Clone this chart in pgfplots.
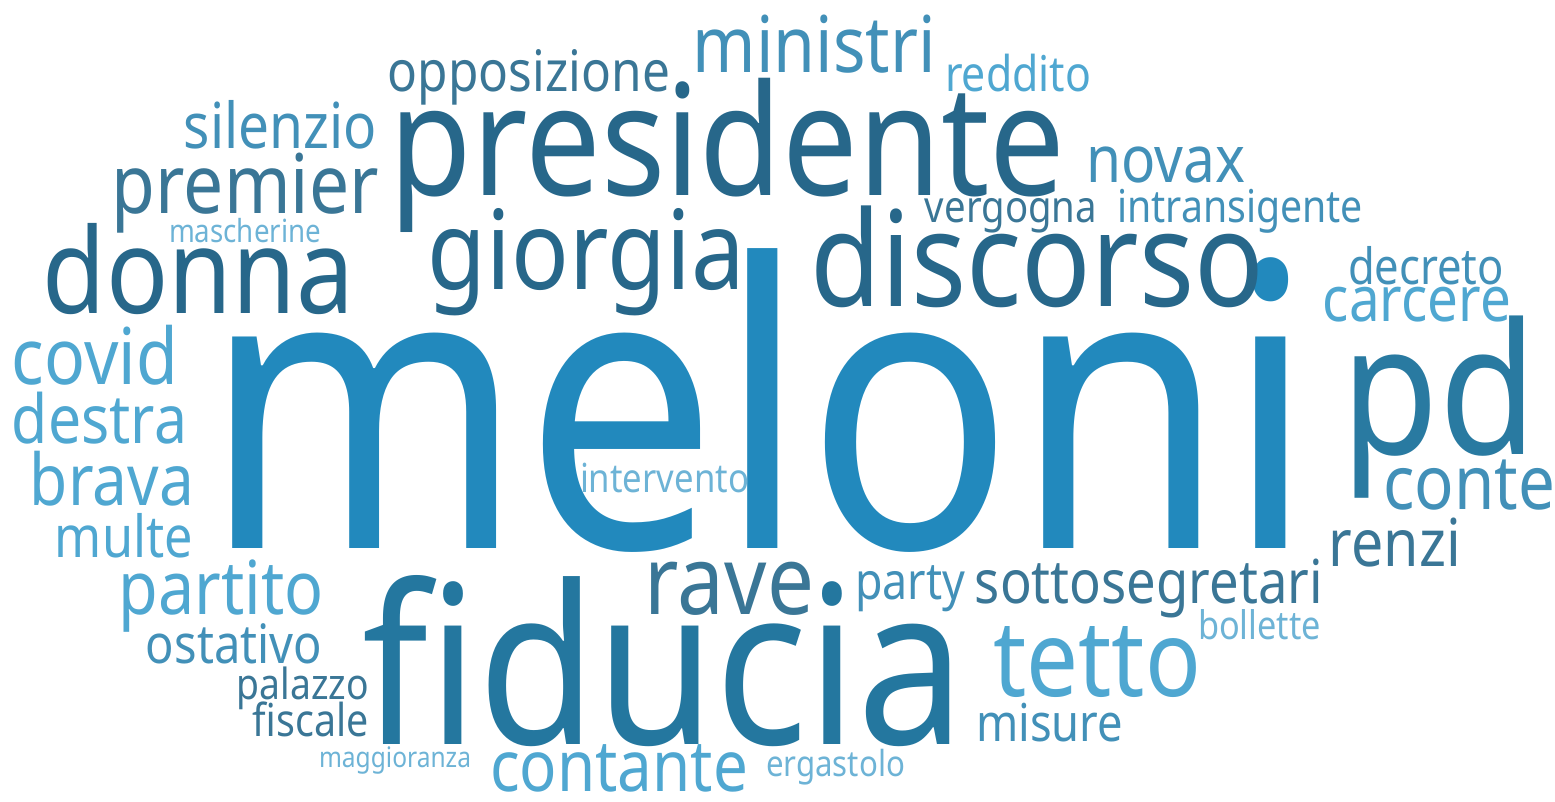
\documentclass[border=0pt]{standalone}
\usepackage{pgfplots}
\pgfplotsset{compat=1.18}
\usepackage{pgfplotstable}
\usepackage{graphicx}
\usepackage{fontspec}
\setmainfont{Noto Sans}
\newlength\pxu \setlength\pxu{0.1mm}
\definecolor{mel}{HTML}{2289BD}
\definecolor{dk}{HTML}{27678A}
\definecolor{fid}{HTML}{24779F}
\definecolor{pdc}{HTML}{297AA1}
\definecolor{slate}{HTML}{3A7696}
\definecolor{mid}{HTML}{4290B8}
\definecolor{light}{HTML}{4FA7D1}
\definecolor{pale}{HTML}{6DB3D6}
\pgfplotstableread{
x y w word
759.5 548 1111 meloni
}\wmel
\pgfplotstableread{
x y w word
727.5 195 675 presidente
1037.5 306 453 discorso
198.5 313 311 donna
586.5 289 317 giorgia
}\wdk
\pgfplotstableread{
x y w word
664 744 602 fiducia
}\wfid
\pgfplotstableread{
x y w word
1439.5 454 195 pd
}\wpd
\pgfplotstableread{
x y w word
529 91 282 opposizione
245.5 213 267 premier
1011 222 172 vergogna
1395 566 132 renzi
729.5 614 169 rave
1149 603 348 sottosegretari
303 699 132 palazzo
311 736 116 fiscale
}\wslate
\pgfplotstableread{
x y w word
814.5 72 243 ministri
280.5 148 193 silenzio
1165.5 182 159 novax
1240 222 246 intransigente
1426 284 156 decreto
1469 509 172 conte
910 599 110 party
234 663 176 ostativo
1049.5 741 147 misure
}\wmid
\pgfplotstableread{
x y w word
1018 91 146 reddito
1417 321 188 carcere
95 384 166 covid
99.5 443 175 destra
112 505 164 brava
124 557 138 multe
221.5 614 205 partito
1097 696 208 tetto
619 791 258 contante
}\wlight
\pgfplotstableread{
x y w word
245 242 152 mascherine
664.5 492 169 intervento
1259.5 639 123 bollette
395 767 152 maggioranza
835.5 776 139 ergastolo
}\wpale
\pgfplotsset{
  cloud/.style={only marks, mark=none, point meta=explicit symbolic,
    visualization depends on={\thisrow{w}\as\ww},
    nodes near coords={\scalebox{1}[1.15]{\resizebox{\ww\pxu}{!}{\pgfplotspointmeta}}},
    every node near coord/.append style={anchor=base, inner sep=0pt, text=#1}},
}
\begin{document}
\begin{tikzpicture}
\begin{axis}[scale only axis, width=155.5mm, height=80.1mm,
  xmin=0, xmax=1555, ymin=0, ymax=801, y dir=reverse,
  hide axis, clip=false]
\addplot[cloud=mel] table[x=x, y=y, meta=word]{\wmel};
\addplot[cloud=dk] table[x=x, y=y, meta=word]{\wdk};
\addplot[cloud=fid] table[x=x, y=y, meta=word]{\wfid};
\addplot[cloud=pdc] table[x=x, y=y, meta=word]{\wpd};
\addplot[cloud=slate] table[x=x, y=y, meta=word]{\wslate};
\addplot[cloud=mid] table[x=x, y=y, meta=word]{\wmid};
\addplot[cloud=light] table[x=x, y=y, meta=word]{\wlight};
\addplot[cloud=pale] table[x=x, y=y, meta=word]{\wpale};
\end{axis}
\pgfresetboundingbox
\path[use as bounding box] (current axis.south west) rectangle (current axis.north east);
\end{tikzpicture}
\end{document}
